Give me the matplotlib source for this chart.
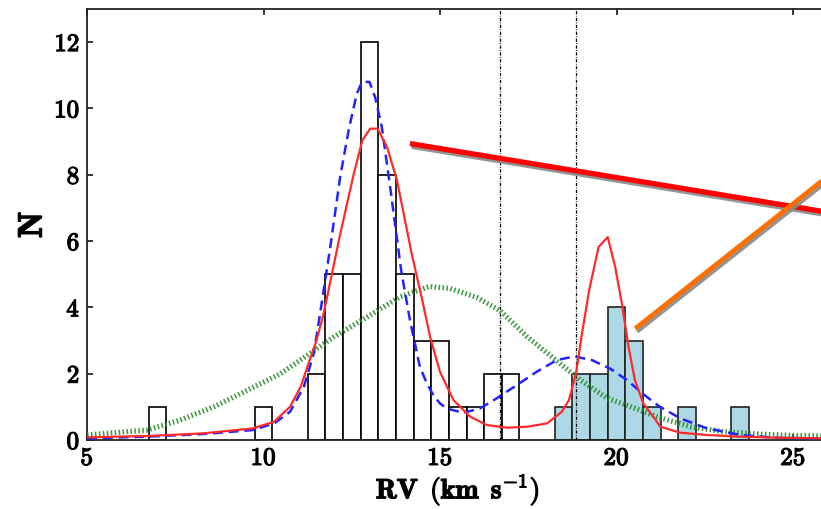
import matplotlib
matplotlib.use("Agg")
import matplotlib.pyplot as plt
import matplotlib.patheffects as pe
from matplotlib.ticker import FuncFormatter, FixedLocator

plt.rcParams['mathtext.fontset'] = 'cm'
plt.rcParams['font.family'] = ['DejaVu Serif']

# ---- data ----
bin_width = 0.5
white_bin_left = [6.75, 9.75, 11.25, 11.75, 12.25, 12.75, 13.25, 13.75,
                  14.25, 14.75, 15.25, 15.75, 16.25, 16.75]
white_counts = [1, 1, 2, 5, 5, 12, 8, 5, 3, 3, 1, 1, 2, 2]
blue_bin_left = [18.25, 18.75, 19.25, 19.75, 20.25, 20.75, 21.75, 23.25]
blue_counts = [1, 2, 2, 4, 3, 1, 1, 1]

red_x = [5.0, 6.7, 8.3, 9.7, 10.3, 10.75, 11.05, 11.24, 11.5, 11.7, 12.17, 12.55,
         12.8, 13.02, 13.23, 13.5, 13.78, 14.2, 14.5, 14.72, 15.0, 15.38, 15.86,
         16.33, 16.9, 17.47, 18.03, 18.45, 18.65, 18.85, 19.02, 19.22, 19.49,
         19.75, 19.96, 20.15, 20.34, 20.52, 20.76, 21.04, 21.24, 21.8, 22.56,
         23.5, 24.45, 25.8]
red_y = [0.08, 0.12, 0.2, 0.35, 0.55, 1.0, 1.6, 2.2, 3.0, 3.8, 6.2, 8.0,
         9.04, 9.39, 9.39, 8.83, 7.83, 5.6, 4.2, 3.1, 2.05, 1.2, 0.7,
         0.45, 0.37, 0.40, 0.5, 0.85, 1.2, 2.0, 3.2, 4.5, 5.82,
         6.12, 5.22, 4.12, 2.8, 1.8, 1.1, 0.7, 0.4, 0.22, 0.15,
         0.1, 0.07, 0.05]

blue_x = [5.0, 6.7, 8.3, 9.7, 10.3, 10.75, 11.14, 11.42, 11.6, 11.89, 12.17,
          12.41, 12.64, 12.79, 13.0, 13.16, 13.35, 13.59, 13.9, 14.15, 14.43,
          14.63, 14.81, 15.0, 15.19, 15.66, 16.13, 16.61, 17.18, 17.74, 18.31,
          18.8, 19.3, 19.82, 20.29, 20.76, 21.2, 21.81, 22.56, 23.51, 24.45, 25.8]
blue_y = [0.05, 0.1, 0.18, 0.3, 0.5, 0.85, 1.6, 2.6, 3.8, 5.82, 7.93,
          9.34, 10.44, 10.8, 10.8, 10.34, 9.44, 7.6, 5.1, 3.6, 2.2,
          1.7, 1.35, 1.1, 0.95, 0.82, 0.95, 1.26, 1.66, 2.06, 2.41,
          2.52, 2.41, 2.15, 1.81, 1.38, 1.02, 0.65, 0.35, 0.15, 0.07, 0.04]

green_x = [5.0, 6.7, 7.64, 8.59, 9.54, 10.48, 11.03, 11.98, 12.92, 13.87, 14.7,
           15.28, 16.04, 16.7, 17.47, 18.22, 18.97, 19.73, 20.29, 21.14, 22.09,
           23.03, 23.97, 24.92, 25.8]
green_y = [0.15, 0.3, 0.6, 1.0, 1.5, 2.0, 2.4, 3.1, 3.7, 4.32, 4.63,
           4.57, 4.3, 3.9, 3.11, 2.46, 1.81, 1.26, 1.05, 0.7, 0.4,
           0.25, 0.18, 0.14, 0.12]

vlines_x = [16.71, 18.85]
x_ticks = [5, 10, 15, 20, 25]
y_ticks = [0, 2, 4, 6, 8, 10, 12]

# ---- figure ----
fig = plt.figure(figsize=(8.21, 5.09), dpi=100)
ax = fig.add_axes([0.106, 0.1356, 0.903, 0.8468])

ax.bar(white_bin_left, white_counts, width=bin_width, align='edge',
       facecolor='white', edgecolor='black', linewidth=1.2, zorder=2)
ax.bar(blue_bin_left, blue_counts, width=bin_width, align='edge',
       facecolor='#add8e6', edgecolor='#222222', linewidth=1.2, zorder=2)

for xv in vlines_x:
    ax.axvline(xv, color='black', lw=0.9, linestyle=(0, (2.5, 1.2, 0.6, 1.2)), zorder=3)

ax.plot(green_x, green_y, color='#228b22', alpha=0.85, lw=3.8,
        linestyle=(0, (0.3, 0.45)), solid_capstyle='butt',
        dash_capstyle='butt', zorder=4)
ax.plot(blue_x, blue_y, color='#2323ff', lw=1.8,
        linestyle=(0, (4.0, 2.3)), zorder=5)
ax.plot(red_x, red_y, color='#ff2a2a', lw=1.6, zorder=6)

# annotation strokes with shadow
shadow = [pe.SimpleLineShadow(offset=(1.2, -2.0), shadow_color='#888888', alpha=0.9),
          pe.Normal()]
ax.plot([14.15, 27.0], [8.94, 6.69], color='#ff0000', lw=3.8,
        solid_capstyle='butt', path_effects=shadow, zorder=7)
ax.plot([20.53, 27.0], [3.36, 8.81], color='#ff7000', lw=3.4,
        solid_capstyle='butt', path_effects=shadow, zorder=7)

ax.set_xlim(5, 26)
ax.set_ylim(0, 13)

ax.xaxis.set_major_locator(FixedLocator(x_ticks))
ax.yaxis.set_major_locator(FixedLocator(y_ticks))
fmt = FuncFormatter(lambda v, p: r'$\mathbf{%d}$' % int(round(v)))
ax.xaxis.set_major_formatter(fmt)
ax.yaxis.set_major_formatter(fmt)
ax.tick_params(axis='both', direction='in', length=4, width=1.1,
               labelsize=18, top=True, right=False)
ax.tick_params(axis='x', pad=5)
ax.tick_params(axis='y', pad=5)
for s in ax.spines.values():
    s.set_linewidth(1.3)
    s.set_color('#222222')

bold = [pe.withStroke(linewidth=0.9, foreground='black')]
for lab in ax.get_xticklabels() + ax.get_yticklabels():
    lab.set_path_effects(bold)

xl = ax.set_xlabel(r'$\mathbf{RV\ \,(km\ \,s^{-1})}$', fontsize=20, labelpad=1)
yl = ax.set_ylabel(r'$\mathbf{N}$', fontsize=24, labelpad=4)
xl.set_path_effects(bold)
yl.set_path_effects([pe.withStroke(linewidth=1.2, foreground='black')])

fig.savefig('out.png', dpi=100)
